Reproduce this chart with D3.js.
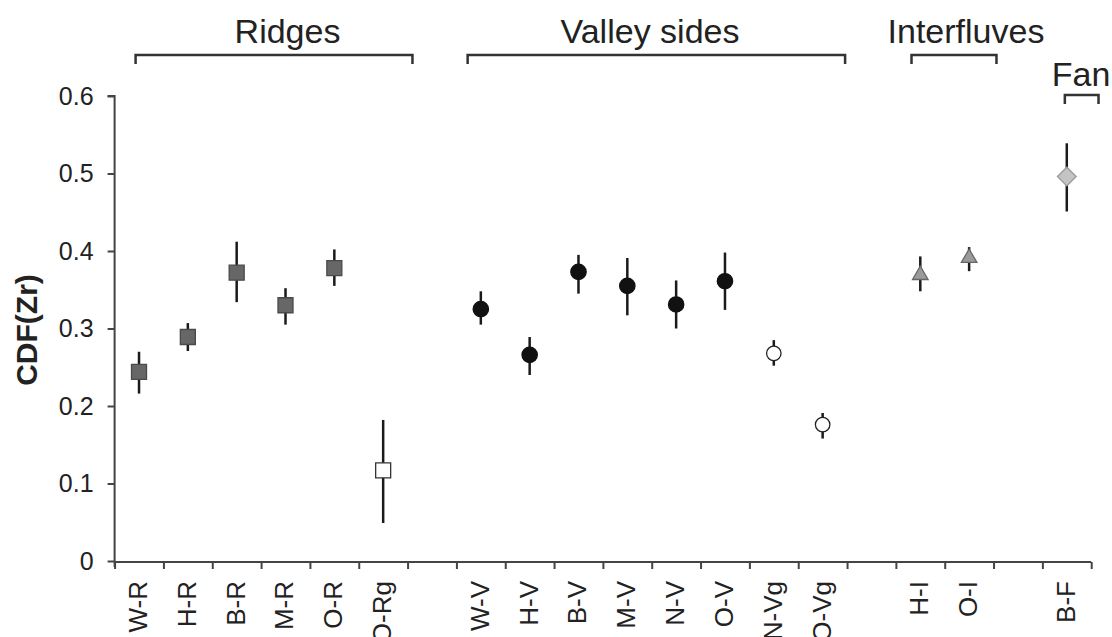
<!DOCTYPE html>
<html>
<head>
<meta charset="utf-8">
<script src="https://cdn.jsdelivr.net/npm/d3@7"></script>
<style>
  html, body { margin: 0; padding: 0; background: #fff; }
  svg { display: block; font-family: "Liberation Sans", Arial, sans-serif; }
</style>
</head>
<body>
<svg id="chart" width="1112" height="637"></svg>
<script>
// ---- data ----
const categories = ["W-R","H-R","B-R","M-R","O-R","O-Rg","","W-V","H-V","B-V","M-V","N-V","O-V","N-Vg","O-Vg","","H-I","O-I","","B-F"];
const sites  = ["W-R","H-R","B-R","M-R","O-R","O-Rg","W-V","H-V","B-V","M-V","N-V","O-V","N-Vg","O-Vg","H-I","O-I","B-F"];
const means  = [0.244,0.289,0.372,0.330,0.378,0.117,0.325,0.266,0.373,0.355,0.331,0.361,0.268,0.176,0.369,0.391,0.496];
const lower  = [0.216,0.271,0.334,0.305,0.355,0.049,0.305,0.240,0.345,0.317,0.300,0.324,0.252,0.158,0.348,0.374,0.451];
const upper  = [0.270,0.307,0.412,0.352,0.402,0.182,0.348,0.289,0.395,0.391,0.362,0.398,0.285,0.191,0.393,0.405,0.539];
const groups = ["ridge","ridge","ridge","ridge","ridge","ridgeG","valley","valley","valley","valley","valley","valley","valleyG","valleyG","interfluve","interfluve","fan"];
const yTicks = [0,0.1,0.2,0.3,0.4,0.5,0.6];
const groupLabels = ["Ridges","Valley sides","Interfluves","Fan"];

// ---- layout ----
const svg = d3.select("#chart");
const pLeft = 114.6, pRight = 1091.2, pTop = 96, pBottom = 561;
const ink = "#222";
const axisColor = "#444";

const x = d3.scaleBand().domain(d3.range(categories.length)).range([pLeft, pRight]).paddingInner(0).paddingOuter(0);
const xb = d3.scaleLinear().domain([0, categories.length]).range([pLeft, pRight]);
const y = d3.scaleLinear().domain([0, 0.6]).range([pBottom, pTop]);
const cx = name => x(categories.indexOf(name)) + x.bandwidth() / 2;

// y axis
const yAxis = svg.append("g").attr("transform", `translate(${pLeft},0)`)
  .call(d3.axisLeft(y).tickValues(yTicks).tickSize(7).tickPadding(14)
    .tickFormat(d => d === 0 ? "0" : d3.format(".1f")(d)));
yAxis.select(".domain").attr("d", `M-7,${pTop}H0V${pBottom + 6}`);
yAxis.selectAll("line").attr("stroke", axisColor).attr("stroke-width", 2);
yAxis.select(".domain").attr("stroke", axisColor).attr("stroke-width", 2);
yAxis.selectAll("text").attr("font-size", 25).attr("fill", ink)
  .attr("font-family", "Liberation Sans, Arial, sans-serif");

// x axis: tick marks at slot boundaries
const xAxis = svg.append("g").attr("transform", `translate(0,${pBottom + 1})`)
  .call(d3.axisBottom(xb).tickValues(d3.range(categories.length + 1)).tickSize(7).tickFormat(""));
xAxis.select(".domain").attr("d", `M${pLeft},0H${pRight}`).attr("stroke", axisColor).attr("stroke-width", 2);
xAxis.selectAll("line").attr("stroke", axisColor).attr("stroke-width", 2);

// x labels (rotated)
const xLab = svg.append("g").attr("transform", `translate(0,${pBottom + 1})`)
  .call(d3.axisBottom(x).tickSize(0).tickPadding(0).tickFormat(i => categories[i]));
xLab.select(".domain").remove();
xLab.selectAll("text")
  .attr("font-size", 26).attr("fill", ink)
  .attr("font-family", "Liberation Sans, Arial, sans-serif")
  .attr("text-anchor", "end")
  .attr("transform", "rotate(-90)")
  .attr("x", -19).attr("y", -1.5).attr("dy", "0.36em").attr("dx", 0);

// y title
svg.append("text")
  .attr("transform", `translate(37,330) rotate(-90)`)
  .attr("text-anchor", "middle")
  .attr("font-size", 30).attr("font-weight", "bold").attr("fill", ink)
  .text("CDF(Zr)");

// error bars
const pts = sites.map((s, i) => ({ s, m: means[i], lo: lower[i], hi: upper[i], g: groups[i] }));
svg.append("g").selectAll("line").data(pts).join("line")
  .attr("x1", d => cx(d.s)).attr("x2", d => cx(d.s))
  .attr("y1", d => y(d.lo)).attr("y2", d => y(d.hi))
  .attr("stroke", "#1a1a1a").attr("stroke-width", 2.5);

// markers
const style = {
  ridge:      { sym: d3.symbolSquare,   size: 225, fill: "#676767", stroke: "#4a4a4a", rot: 0 },
  ridgeG:     { sym: d3.symbolSquare,   size: 225, fill: "#ffffff", stroke: "#333333", rot: 0 },
  valley:     { sym: d3.symbolCircle,   size: 185, fill: "#111111", stroke: "#111111", rot: 0 },
  valleyG:    { sym: d3.symbolCircle,   size: 165, fill: "#ffffff", stroke: "#222222", rot: 0 },
  interfluve: { sym: d3.symbolTriangle, size: 105, fill: "#9a9a9a", stroke: "#666666", rot: 0 },
  fan:        { sym: d3.symbolSquare,   size: 175, fill: "#c4c4c4", stroke: "#999999", rot: 45 }
};
svg.append("g").selectAll("path").data(pts).join("path")
  .attr("d", d => d3.symbol().type(style[d.g].sym).size(style[d.g].size)())
  .attr("transform", d => `translate(${cx(d.s)},${y(d.m)}) rotate(${style[d.g].rot})`)
  .attr("fill", d => style[d.g].fill)
  .attr("stroke", d => style[d.g].stroke)
  .attr("stroke-width", 1.3);

// group brackets (slot units)
const brackets = [
  { label: groupLabels[0], a: 0.43, b: 6.10, ty: 55, tx: 287.5, by: 42.7 },
  { label: groupLabels[1], a: 7.23, b: 14.96, ty: 55, tx: 650, by: 42.7 },
  { label: groupLabels[2], a: 16.32, b: 18.06, ty: 55, tx: 966, by: 42.7 },
  { label: groupLabels[3], a: 19.46, b: 20.15, ty: 95, tx: 1081, by: 86 }
];
const bg = svg.append("g");
brackets.forEach(b => {
  const x1 = xb(b.a), x2 = xb(b.b);
  bg.append("path")
    .attr("d", `M${x1},${b.ty + 9}V${b.ty}H${x2}V${b.ty + 9}`)
    .attr("fill", "none").attr("stroke", "#333").attr("stroke-width", 2.5);
  bg.append("text").attr("x", b.tx).attr("y", b.by)
    .attr("text-anchor", "middle").attr("font-size", 34).attr("fill", ink)
    .text(b.label);
});
</script>
</body>
</html>
